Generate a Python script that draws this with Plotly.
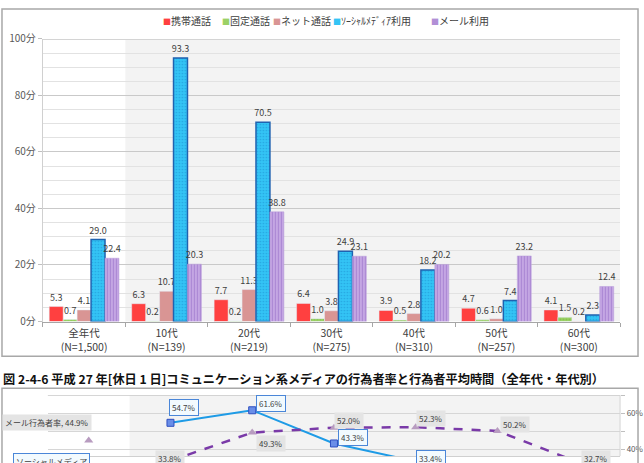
import plotly.graph_objects as go

W, H = 644, 463
FONT = "Noto Sans CJK JP"

# ---------------- data: average time (minutes) ----------------
categories = ["全年代", "10代", "20代", "30代", "40代", "50代", "60代"]
sample_sizes = ["1,500", "139", "219", "275", "310", "257", "300"]
series_names = ["携帯通話", "固定通話", "ネット通話", "ｿｰｼｬﾙﾒﾃﾞｨｱ利用", "メール利用"]
mobile_call = [5.3, 6.3, 7.7, 6.4, 3.9, 4.7, 4.1]
fixed_call = [0.7, 0.2, 0.2, 1.0, 0.5, 0.6, 1.5]
net_call = [4.1, 10.7, 11.3, 3.8, 2.8, 1.0, 0.2]
social_media = [29.0, 93.3, 70.5, 24.9, 18.2, 7.4, 2.3]
email = [22.4, 20.3, 38.8, 23.1, 20.2, 23.2, 12.4]
y_ticks = [0, 20, 40, 60, 80, 100]
y_minor_ticks = [v for v in range(0, 101, 5) if v % 20]

# ---------------- data: rates (%) of lower chart ----------------
rate_social = [30.8, 54.7, 61.6, 43.3, 33.4, 19.0, 6.4]
rate_email = [44.9, 33.8, 49.3, 52.0, 52.3, 50.2, 32.7]
rate_ticks = [40, 50, 60, 70]
rate_ticktext = ["40%", "", "60%", ""]

caption = "図 2-4-6 平成 27 年[休日 1 日]コミュニケーション系メディアの行為者率と行為者平均時間（全年代・年代別）"

# ---------------- styles ----------------
bar_styles = [
    dict(color="#FF4040"),
    dict(color="#9BD166", pattern=dict(shape=".", fgcolor="#6FAF3A", size=3, solidity=0.3, fillmode="overlay")),
    dict(color="#D99594"),
    dict(color="#33C4F5", line=dict(color="#1F62B0", width=1.5),
         pattern=dict(shape=".", fgcolor="#1A8AD0", size=3, solidity=0.25, fillmode="overlay")),
    dict(color="#C9ACE6", line=dict(color="#B79AD8", width=0.5),
         pattern=dict(shape="|", fgcolor="#8B5FC0", size=3, solidity=0.45, fillmode="overlay")),
]
series_values = [mobile_call, fixed_call, net_call, social_media, email]


def px(x):
    return x / W


def py(y):
    return 1 - y / H


fig = go.Figure()

for name, vals, st in zip(series_names, series_values, bar_styles):
    fig.add_trace(go.Bar(
        x=categories, y=vals, name=name, marker=st,
        text=vals, texttemplate="%{y:.1f}", textposition="outside",
        textangle=0, constraintext="none", cliponaxis=False,
        textfont=dict(family=FONT, size=9, color="#404040"),
        showlegend=False, xaxis="x", yaxis="y",
    ))

# lower chart lines
SOC_LINE = "#1E9BE6"
EML_LINE = "#7A3AA8"
fig.add_trace(go.Scatter(
    x=categories[1:], y=rate_social[1:], mode="lines+markers", xaxis="x2", yaxis="y2",
    line=dict(color=SOC_LINE, width=2),
    marker=dict(symbol="square", size=7, color="#6A8EE8", line=dict(color="#2F4FC0", width=1)),
    showlegend=False))
fig.add_trace(go.Scatter(
    x=categories[:1], y=rate_social[:1], mode="markers", xaxis="x2", yaxis="y2",
    marker=dict(symbol="square", size=7, color="#6A8EE8", line=dict(color="#2F4FC0", width=1)),
    showlegend=False))
fig.add_trace(go.Scatter(
    x=categories[1:], y=rate_email[1:], mode="lines+markers", xaxis="x2", yaxis="y2",
    line=dict(color=EML_LINE, width=2.5, dash="dash"),
    marker=dict(symbol="triangle-up", size=8, color="#B89CC0"),
    showlegend=False))
fig.add_trace(go.Scatter(
    x=categories[:1], y=rate_email[:1], mode="markers", xaxis="x2", yaxis="y2",
    marker=dict(symbol="triangle-up", size=8, color="#B89CC0"),
    showlegend=False))

Y2_RANGE = [36.4, 70]
Y2_TOP_PX, Y2_BOT_PX = 400, 463
PX_PER_UNIT = (Y2_BOT_PX - Y2_TOP_PX) / (Y2_RANGE[1] - Y2_RANGE[0])

annotations = []

# legend (manual, compact)
legend_colors = ["#FF4040", "#9BD166", "#D99594", "#33C4F5", "#B18FD6"]
legend_left_px = [161, 221, 272, 332, 430]
for name, c, lx in zip(series_names, legend_colors, legend_left_px):
    annotations.append(dict(
        x=px(lx), y=py(13), xref="paper", yref="paper", xanchor="left", yanchor="middle",
        text=f"<span style='color:{c};font-size:8px'>■</span>{name}", showarrow=False,
        font=dict(family=FONT, size=10, color="#404040")))

# caption
annotations.append(dict(
    x=px(1), y=py(383), xref="paper", yref="paper", xanchor="left", yanchor="middle",
    text=f"<b>{caption}</b>", showarrow=False,
    font=dict(family=FONT, size=12.2, color="#111111")))

blue_box = dict(bgcolor="#F2FAFE", bordercolor="#4A86D8", borderwidth=1, borderpad=2)
gray_box = dict(bgcolor="#E4E4E4", borderpad=2)


def rate_label(cat, val, text, dx, dy, box):
    common = dict(x=cat, xref="x2", yref="y2", text=text,
                  font=dict(family=FONT, size=8, color="#404040"), **box)
    if Y2_RANGE[0] <= val <= Y2_RANGE[1]:
        return dict(y=val, showarrow=False, xshift=dx, yshift=dy, **common)
    # point lies below the visible part: anchor the box top via an invisible arrow tail
    return dict(y=val, showarrow=True, arrowcolor="rgba(0,0,0,0)", arrowwidth=0.1,
                axref="pixel", ax=dx, ayref="y2", ay=val + dy / PX_PER_UNIT,
                yanchor="top", **common)


blue_offsets = [(-37, 13.5), (14, 15), (19, 7), (19, 6), (15, 11.6), (15, 6), (15, 6)]
gray_offsets = [(-42, 18), (0, 11), (19, -11), (15, 7), (15, 9), (18, 6), (17, 13)]
for i, cat in enumerate(categories):
    if i == 0:
        t_soc = f"ソーシャルメディア<br>行為者率, {rate_social[i]:.1f}%"
        t_eml = f"メール行為者率, {rate_email[i]:.1f}%"
    else:
        t_soc = f"{rate_social[i]:.1f}%"
        t_eml = f"{rate_email[i]:.1f}%"
    annotations.append(rate_label(cat, rate_social[i], t_soc, *blue_offsets[i], blue_box))
    annotations.append(rate_label(cat, rate_email[i], t_eml, *gray_offsets[i], gray_box))

shapes = [
    # shaded region behind age groups (upper chart)
    dict(type="rect", xref="x", yref="y", x0=0.5, x1=6.5, y0=0, y1=100,
         fillcolor="#F3F3F3", line=dict(width=0), layer="below"),
    # shaded region (lower chart)
    dict(type="rect", xref="x2", yref="y2", x0=0.5, x1=6.5, y0=Y2_RANGE[0], y1=Y2_RANGE[1],
         fillcolor="#F3F3F3", line=dict(width=0), layer="below"),
    # upper frame
    dict(type="rect", xref="paper", yref="paper", x0=px(2), x1=px(640), y0=py(360), y1=py(1),
         line=dict(color="#A8A8A8", width=1.5), fillcolor="rgba(0,0,0,0)"),
    # lower frame
    dict(type="rect", xref="paper", yref="paper", x0=px(2), x1=px(640), y0=py(520), y1=py(393),
         line=dict(color="#A8A8A8", width=1.5), fillcolor="rgba(0,0,0,0)"),
    # top border line of upper plot
    dict(type="line", xref="paper", yref="y", x0=px(43), x1=px(622), y0=100, y1=100,
         line=dict(color="#D4D4D4", width=2)),
    # top border line of lower plot
    dict(type="line", xref="paper", yref="y2", x0=px(48), x1=px(622), y0=Y2_RANGE[1], y1=Y2_RANGE[1],
         line=dict(color="#C8C8C8", width=1.5)),
    dict(type="line", xref="paper", yref="y2", x0=px(622), x1=px(622), y0=Y2_RANGE[0], y1=Y2_RANGE[1],
         line=dict(color="#D4D4D4", width=1)),
]

fig.update_layout(
    width=W, height=H, margin=dict(l=0, r=0, t=0, b=0),
    paper_bgcolor="white", plot_bgcolor="white",
    font=dict(family=FONT, color="#404040"),
    barmode="group", bargap=0.154, bargroupgap=0,
    showlegend=False,
    xaxis=dict(domain=[px(43), px(622)], anchor="y", type="category",
               tickvals=categories,
               ticktext=[f"{c}<br>(N={n})" for c, n in zip(categories, sample_sizes)],
               tickfont=dict(family=FONT, size=10.5, color="#404040"),
               showline=True, linecolor="#A6A6A6", linewidth=1,
               ticks="outside", tickson="boundaries", ticklen=4, tickcolor="#A6A6A6",
               showgrid=False, ticklabelstandoff=2),
    yaxis=dict(domain=[py(324), py(32)], anchor="x", range=[0, 100],
               tickmode="array", tickvals=y_ticks, ticktext=[f"{v}分" for v in y_ticks],
               tickfont=dict(family=FONT, size=10, color="#595959"),
               showgrid=True, gridcolor="#C9C9C9", gridwidth=1,
               minor=dict(tickmode="array", tickvals=y_minor_ticks, showgrid=True,
                          gridcolor="#E2E2E2", ticks=""),
               showline=True, linecolor="#D0D0D0", ticks="outside", ticklen=4,
               tickcolor="#BFBFBF", zeroline=False),
    xaxis2=dict(domain=[px(48), px(622)], anchor="y2", type="category",
                categoryorder="array", categoryarray=categories, range=[-0.5, 6.5],
                showticklabels=False, showgrid=False, showline=True, linecolor="#D0D0D0",
                ticks=""),
    yaxis2=dict(domain=[0, py(Y2_TOP_PX)], anchor="x2", side="right", range=Y2_RANGE,
                tickvals=rate_ticks, ticktext=rate_ticktext,
                tickfont=dict(family=FONT, size=8, color="#595959"),
                showgrid=True, gridcolor="#D6D6D6", ticks="outside", ticklen=4,
                tickcolor="#BFBFBF", zeroline=False, showline=False),
    annotations=annotations,
    shapes=shapes,
)

fig.write_html("out.html")
